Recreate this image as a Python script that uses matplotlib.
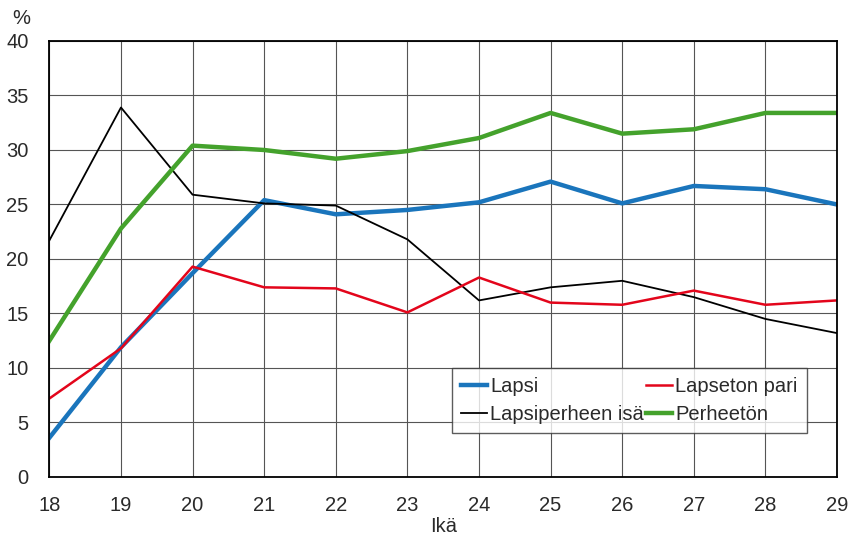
import matplotlib.pyplot as plt

# Ikä ja osuudet (%) kotitaloustyypeittäin
ika = [18, 19, 20, 21, 22, 23, 24, 25, 26, 27, 28, 29]
lapsi = [3.6, 11.9, 18.7, 25.4, 24.1, 24.5, 25.2, 27.1, 25.1, 26.7, 26.4, 25.0]
lapseton_pari = [7.2, 11.8, 19.3, 17.4, 17.3, 15.1, 18.3, 16.0, 15.8, 17.1, 15.8, 16.2]
isa = [21.7, 33.9, 25.9, 25.1, 24.9, 21.8, 16.2, 17.4, 18.0, 16.5, 14.5, 13.2]
perheeton = [12.5, 22.8, 30.4, 30.0, 29.2, 29.9, 31.1, 33.4, 31.5, 31.9, 33.4, 33.4]

plt.rcParams['font.family'] = ['Liberation Sans', 'DejaVu Sans']
teksti = '#2a2a2a'

fig = plt.figure(figsize=(8.51, 5.38), dpi=100)
ax = fig.add_axes([0.058, 0.1134, 0.9256, 0.8104])

ax.plot(ika, lapsi, color='#1a75bc', lw=3.2, label='Lapsi')
ax.plot(ika, isa, color='black', lw=1.3, label='Lapsiperheen isä')
ax.plot(ika, lapseton_pari, color='#e3051b', lw=1.8, label='Lapseton pari')
ax.plot(ika, perheeton, color='#44a22c', lw=3.2, label='Perheetön')

ax.set_xlim(18, 29)
ax.set_ylim(0, 40)
ax.set_xticks(ika)
ax.set_yticks(range(0, 41, 5))
ax.tick_params(length=0, labelsize=14.5, colors=teksti)
ax.tick_params(axis='x', pad=14)
ax.tick_params(axis='y', pad=15)
ax.grid(True, color='#555555', lw=0.8)
ax.set_axisbelow(True)
for s in ax.spines.values():
    s.set_linewidth(1.3)

ax.set_xlabel('Ikä', fontsize=14.5, labelpad=1, color=teksti)
ax.text(-0.036, 1.052, '%', transform=ax.transAxes, fontsize=14.5, ha='center', va='center',
        color=teksti)

# järjestys: Lapsi, Lapsiperheen isä | Lapseton pari, Perheetön
leg = ax.legend(ncol=2, loc='lower left', bbox_to_anchor=(0.511, 0.101), borderaxespad=0,
                fontsize=14.5, frameon=True, fancybox=False, edgecolor='#333333',
                handlelength=1.3, handletextpad=0.15, columnspacing=0.1, borderpad=0.45,
                labelspacing=0.45)
leg.get_frame().set_linewidth(1.0)
for t in leg.get_texts():
    t.set_color(teksti)

fig.savefig('out.png', dpi=100)
